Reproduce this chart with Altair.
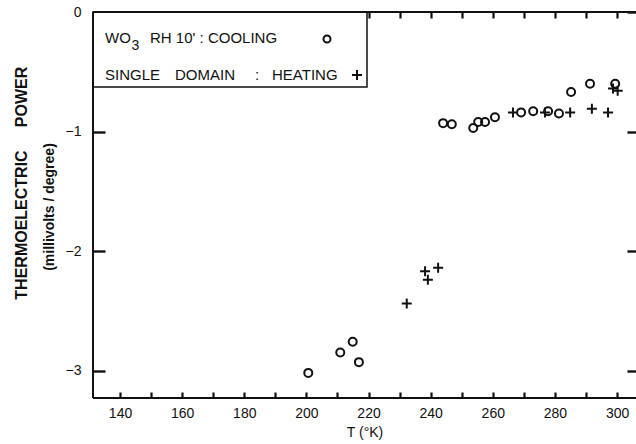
import altair as alt
import pandas as pd

# ---- data ----
cool_T = [200.6, 210.9, 214.9, 216.9, 244.0, 246.8, 253.7, 255.3, 257.5, 260.7,
          269.1, 273.0, 277.8, 281.3, 285.2, 291.3, 299.4]
cool_P = [-3.02, -2.85, -2.76, -2.93, -0.93, -0.94, -0.97, -0.92, -0.92, -0.88,
          -0.84, -0.83, -0.83, -0.85, -0.67, -0.60, -0.60]
heat_T = [232.3, 238.2, 239.1, 242.4, 266.5, 276.8, 284.9, 291.9, 297.1, 298.7, 300.2]
heat_P = [-2.44, -2.17, -2.24, -2.14, -0.84, -0.84, -0.84, -0.81, -0.84, -0.64, -0.66]

x_ticks = [140, 150, 160, 170, 180, 190, 200, 210, 220,
           230, 240, 250, 260, 270, 280, 290, 300]
y_ticks = [0, -1, -2, -3]
x_domain = [131.3, 306.1]
y_domain = [-3.23, 0.0]

W, H = 543, 386
FONT = "Liberation Sans"
INK = "#111111"

cool = pd.DataFrame({"T": cool_T, "P": cool_P})
heat = pd.DataFrame({"T": heat_T, "P": heat_P})
one = pd.DataFrame({"a": [0]})

xs = alt.Scale(domain=x_domain, nice=False, zero=False)
ys = alt.Scale(domain=y_domain, nice=False, zero=False)

# bottom / left axes: labels plus inward ticks (axis shifted inside by the tick length)
X_bottom = alt.X("T:Q", scale=xs, axis=alt.Axis(
    orient="bottom", offset=-6, tickSize=6, tickWidth=2.2, tickColor=INK,
    tickOpacity=1, values=x_ticks,
    labelExpr="datum.value % 20 === 0 ? datum.label : ''",
    domain=False, grid=False, labelPadding=8,
    labelFontSize=14, labelFont=FONT, labelColor=INK, title="T (°K)",
    titleFont=FONT, titleFontSize=14, titleFontWeight="normal", titleColor=INK,
    titlePadding=5, labelFlush=False))
Y_left = alt.Y("P:Q", scale=ys, axis=alt.Axis(
    orient="left", offset=-12, tickSize=12, tickWidth=2.4, tickColor=INK,
    tickOpacity=1, values=y_ticks, format="d", domain=False, grid=False,
    labelPadding=12, labelFontSize=14, labelFont=FONT, labelColor=INK,
    title=None, labelFlush=False))

# top / right axes: inward ticks only
X_top = alt.X("T:Q", scale=xs, axis=alt.Axis(
    orient="top", offset=-6, tickSize=6, tickWidth=2.2, tickColor=INK,
    tickOpacity=1, values=x_ticks, labels=False, domain=False, grid=False,
    title=None))
Y_right = alt.Y("P:Q", scale=ys, axis=alt.Axis(
    orient="right", offset=-9, tickSize=9, tickWidth=2.4, tickColor=INK,
    tickOpacity=1, values=y_ticks, labels=False, domain=False, grid=False,
    title=None))

cool_layer = alt.Chart(cool).mark_point(
    shape="circle", filled=False, size=64, strokeWidth=2, color=INK, opacity=1
).encode(x=X_bottom, y=Y_left)

heat_layer = alt.Chart(heat).mark_point(
    shape="M-1,0L1,0M0,-1L0,1", filled=False, size=100, strokeWidth=2,
    color=INK, opacity=1
).encode(x=X_top, y=Y_right)

# frame lines
frame = [
    alt.Chart(one).mark_rule(color=INK, strokeWidth=2).encode(
        x=alt.value(0), x2=alt.value(W), y=alt.value(H)),
    alt.Chart(one).mark_rule(color=INK, strokeWidth=2).encode(
        x=alt.value(0), x2=alt.value(W), y=alt.value(0)),
    alt.Chart(one).mark_rule(color=INK, strokeWidth=2).encode(
        x=alt.value(0), y=alt.value(0), y2=alt.value(H)),
]

# legend box
legend_box = alt.Chart(one).mark_rect(
    fill="white", stroke=INK, strokeWidth=1.5
).encode(x=alt.value(0), x2=alt.value(274), y=alt.value(0), y2=alt.value(75))

def txt(s, x, y, size=15, align="left", weight="normal", angle=0, baseline="middle"):
    kw = dict(text=s, align=align, baseline=baseline, fontSize=size,
              font=FONT, fontWeight=weight, color=INK)
    if angle:
        kw["angle"] = angle
    return alt.Chart(one).mark_text(**kw).encode(x=alt.value(x), y=alt.value(y))

legend_items = [
    txt("WO", 12, 25.5),
    txt("3", 38.5, 34, size=14),
    txt("RH 10' : COOLING", 57, 25.5),
    txt("SINGLE", 12, 62.5),
    txt("DOMAIN", 82, 62.5),
    txt(":", 164, 62.5, align="center"),
    txt("HEATING", 179, 62.5),
    alt.Chart(one).mark_point(shape="circle", filled=False, size=49,
                              strokeWidth=2, color=INK, opacity=1).encode(
        x=alt.value(234), y=alt.value(27)),
    alt.Chart(one).mark_point(shape="M-1,0L1,0M0,-1L0,1", filled=False,
                              size=100, strokeWidth=2, color=INK, opacity=1).encode(
        x=alt.value(264), y=alt.value(63)),
]

y_titles = [
    txt("THERMOELECTRIC", -71, 213, size=16, align="center", weight="bold", angle=270),
    txt("POWER", -71, 85, size=16, align="center", weight="bold", angle=270),
    txt("(millivolts / degree)", -43, 195, size=14, align="center", weight="bold", angle=270),
]

chart = alt.layer(
    legend_box, *frame, cool_layer, heat_layer, *legend_items, *y_titles
).resolve_axis(
    x="independent", y="independent"
).properties(
    width=W, height=H,
    autosize="none",
    padding={"left": 93, "top": 12, "right": 0, "bottom": 46},
    background="white",
).configure_view(stroke=None)

chart.save("out.html", embed_options={"renderer": "svg", "actions": False})
